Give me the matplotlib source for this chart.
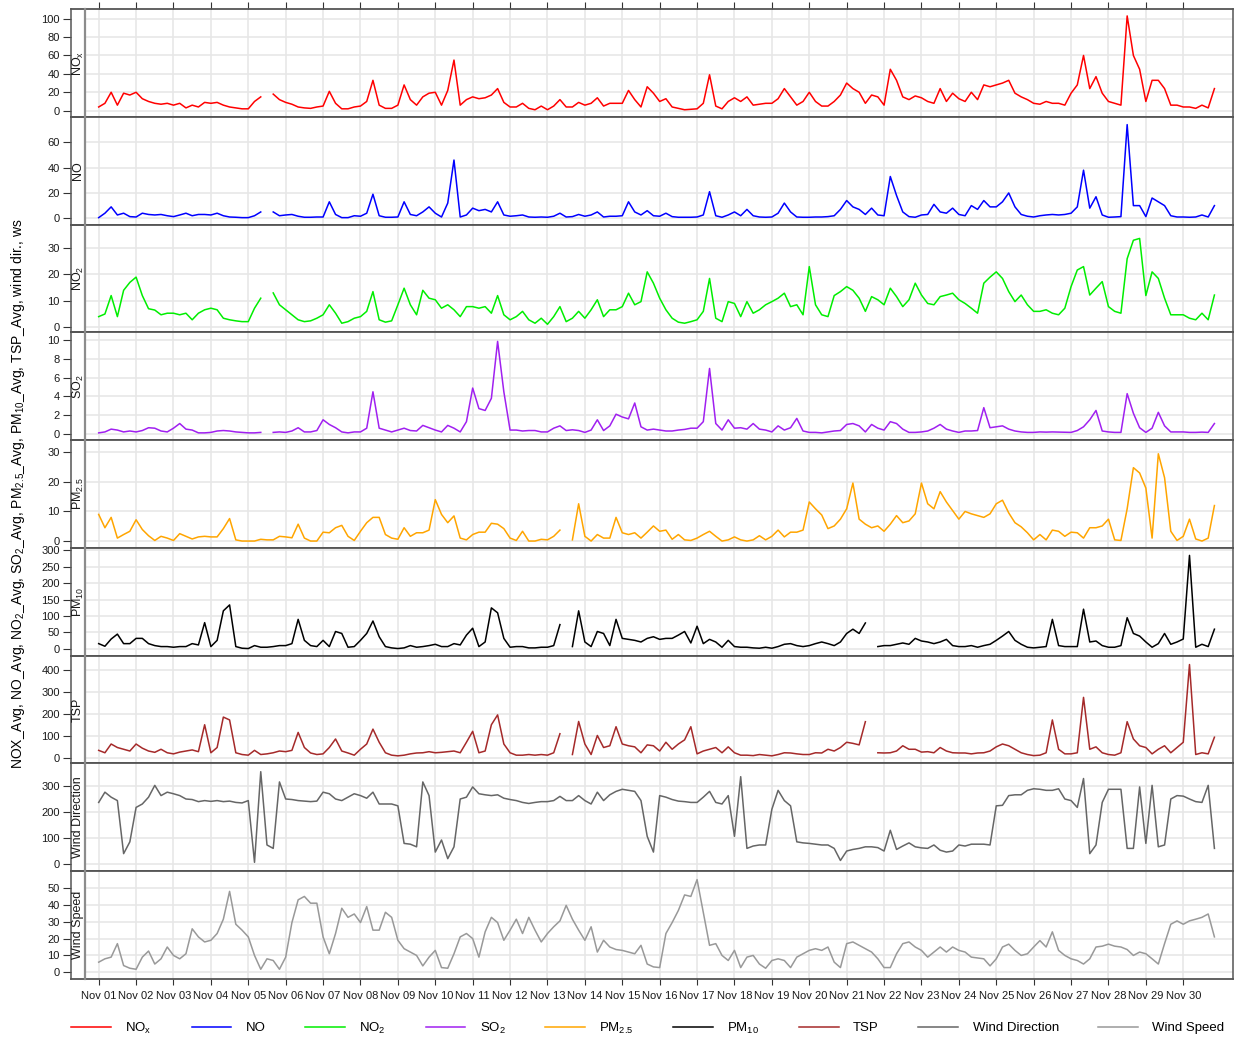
import numpy as np
import pandas as pd
import matplotlib
matplotlib.use('Agg')
import matplotlib.pyplot as plt
import matplotlib.dates as mdates
from matplotlib.lines import Line2D

plt.rcParams['font.family'] = ['Liberation Sans', 'DejaVu Sans']
plt.rcParams['mathtext.default'] = 'regular'

nan = np.nan

# 4-hourly averages, Nov 01 - Nov 30 (6 values per day, 00h ... 20h)
nox = [4, 8, 20, 6, 19, 17,      20, 13, 10, 8, 7, 8,        6, 8, 3, 6, 4, 9,
       8, 9, 6, 4, 3, 2,         2, 10, 15, nan, 18, 12,     9, 7, 4, 3, 2.5, 4,
       5, 21, 8, 2, 2, 4,        5, 10, 33, 6, 2.5, 2.5,     6, 28, 12, 6, 15, 19,
       20, 6, 22, 55, 6, 12,     15, 13, 14, 17, 24, 9,      4, 4, 8, 2.5, 1, 5,
       1, 5, 12, 4, 4, 9,        6, 8, 14, 5, 8, 8,          8, 22, 12, 4, 26, 19,
       10, 13, 4, 2.5, 1, 1.5,   2, 8, 39, 5, 2, 10,         14, 10, 15, 6, 7, 8,
       8, 13, 24, 15, 6, 10,     20, 10, 5, 5, 10, 17,       30, 24, 20, 8, 17, 15,
       6, 45, 33, 15, 12, 16,    14, 10, 8, 24, 10, 19,      13, 10, 20, 12, 28, 26,
       28, 30, 33, 19, 15, 12,   8, 7, 10, 8, 8, 6,          19, 28, 60, 24, 37, 19,
       10, 8, 6, 103, 60, 45,    10, 33, 33, 24, 6, 6,       4, 4, 2.5, 6, 3, 24]

no = [0.5, 4, 9, 2.6, 4, 1.3,    1, 4, 3, 2.6, 3, 2,         1.3, 2.6, 4, 2, 3, 3,
      2.6, 4, 2, 1, 0.8, 0.5,    0.5, 2, 5, nan, 5, 2,       2.6, 3, 1.6, 0.8, 0.8, 1,
      1, 13, 3, 0.5, 0.5, 2,     1.6, 4, 19, 2, 0.8, 0.8,    1, 13, 3, 2, 5, 9,
      4, 1, 12, 46, 1, 2.6,      8, 6, 7, 5, 13, 2.6,        1.6, 2, 2.6, 1, 0.8, 1,
      0.8, 1.6, 4, 1, 1.3, 3,    1.6, 2.6, 5, 1, 1.6, 1.6,   2, 13, 5, 2.6, 6, 2,
      1.6, 4, 1.3, 0.8, 0.8, 0.8, 1, 2.6, 21, 2, 0.8, 2.6,   5, 2, 7, 2, 1, 0.8,
      1, 4, 12, 5, 1, 0.8,       0.8, 1, 1, 1.3, 2, 7,       14, 9, 7, 3, 8, 2.6,
      2, 33, 18, 5, 1.3, 0.8,    2.6, 3, 11, 5, 4, 8,        3, 2, 10, 7, 14, 9,
      9, 13, 20, 9, 3, 1.6,      1, 2, 2.6, 3, 2.6, 3,       4, 9, 38, 8, 17, 2.6,
      0.8, 1, 1.3, 74, 10, 10,   1.3, 16, 13, 10, 2, 1,      1, 0.8, 1, 2.6, 1, 10]

no2 = [4, 5, 12, 4, 14, 17,         19, 12, 7, 6.5, 4.7, 5.3,     5.3, 4.7, 5.3, 2.8, 5.3, 6.6,
       7.2, 6.6, 3.4, 2.8, 2.4, 2.1, 2.1, 7.2, 11, nan, 13, 8.5,   6.6, 4.7, 2.8, 2.1, 2.4, 3.4,
       4.7, 8.5, 5.3, 1.5, 2.1, 3.4, 4, 6, 13.5, 2.8, 1.9, 2.4,    8.5, 14.8, 8.5, 4.7, 14, 11,
       10.4, 7.2, 8.5, 6.6, 4, 7.8,  7.8, 7.2, 7.8, 5.3, 12, 4.7,  2.8, 4, 6, 2.8, 1.5, 3.4,
       1.1, 4, 7.8, 2.1, 3.4, 6,     3.4, 6.6, 10.4, 4, 6.6, 6.6,  7.8, 12.9, 8.5, 9.7, 21, 16.7,
       11, 6.6, 3.4, 1.9, 1.5, 2.1,  2.8, 6, 18.5, 3.4, 2.1, 9.7,  9, 4, 9.7, 5.3, 6.6, 8.5,
       9.7, 11, 12.9, 7.8, 8.5, 4.7, 23, 8.5, 4.7, 4, 12, 13.5,    15.4, 14, 11, 6, 11.6, 10.4,
       8.5, 14.8, 11.6, 7.8, 10.4, 16.7, 12.2, 9, 8.5, 11.6, 12.2, 12.9, 10.4, 9, 7.2, 5.3, 16.7, 19,
       21, 18.5, 13.5, 9.7, 12.2, 8.5, 6, 6, 6.6, 5.3, 4.7, 7.2,   15.4, 21.7, 23, 12.2, 14.8, 17.3,
       7.8, 6, 5.3, 26, 33, 33.7,    12, 21, 18.5, 11, 4.7, 4.7,   4.7, 3.4, 2.8, 5.3, 2.8, 12.2]

so2 = [0.1, 0.2, 0.5, 0.4, 0.2, 0.3,     0.2, 0.35, 0.65, 0.6, 0.3, 0.2,   0.6, 1.1, 0.5, 0.4, 0.1, 0.1,
       0.15, 0.3, 0.35, 0.3, 0.2, 0.15,  0.1, 0.1, 0.15, nan, 0.15, 0.2,   0.15, 0.3, 0.65, 0.2, 0.2, 0.35,
       1.5, 1.0, 0.65, 0.2, 0.1, 0.2,    0.2, 0.6, 4.5, 0.6, 0.4, 0.2,     0.4, 0.6, 0.35, 0.3, 0.9, 0.65,
       0.4, 0.2, 0.9, 0.6, 0.2, 1.3,     4.9, 2.7, 2.5, 3.8, 9.9, 4.5,     0.4, 0.4, 0.3, 0.35, 0.35, 0.2,
       0.2, 0.6, 0.85, 0.35, 0.43, 0.35, 0.15, 0.4, 1.5, 0.35, 0.85, 2.1,  1.8, 1.6, 3.3, 0.75, 0.4, 0.5,
       0.4, 0.3, 0.3, 0.4, 0.47, 0.6,    0.6, 1.3, 7.0, 1.1, 0.4, 1.5,     0.6, 0.65, 0.5, 1.1, 0.5, 0.4,
       0.2, 0.85, 0.4, 0.65, 1.65, 0.3,  0.15, 0.15, 0.1, 0.2, 0.3, 0.35,  1.0, 1.1, 0.85, 0.2, 1.0, 0.6,
       0.4, 1.3, 1.1, 0.5, 0.15, 0.15,   0.2, 0.3, 0.6, 1.0, 0.5, 0.3,     0.15, 0.3, 0.3, 0.35, 2.8, 0.65,
       0.75, 0.85, 0.5, 0.3, 0.2, 0.15,  0.15, 0.2, 0.18, 0.2, 0.18, 0.15, 0.15, 0.35, 0.75, 1.5, 2.5, 0.3,
       0.2, 0.15, 0.15, 4.3, 2.2, 0.65,  0.15, 0.6, 2.3, 0.85, 0.2, 0.2,   0.2, 0.15, 0.15, 0.18, 0.15, 1.1]

pm25 = [9, 4.5, 8, 1, 2.2, 3.3,        7.2, 3.9, 1.8, 0.2, 1.6, 1,      0.2, 2.5, 1.6, 0.7, 1.4, 1.6,
        1.4, 1.4, 4.2, 7.6, 0.4, 0,    0, 0, 0.6, 0.4, 0.4, 1.6,        1.4, 1.1, 5.7, 1, 0, 0,
        3, 2.8, 4.5, 5.3, 1.6, 0.2,    3.3, 6.2, 8, 8, 2.2, 1,          0.6, 4.5, 1.6, 2.8, 2.8, 3.7,
        14, 9, 6.2, 8.5, 1, 0.4,       2.2, 3, 3, 6, 5.7, 4.2,          1, 0.2, 3.3, 0, 0, 0.6,
        0.4, 1.6, 3.7, nan, 0.4, 12.6, 1.6, 0, 2.2, 1, 1, 8,            2.8, 2.2, 2.8, 1, 3, 5.1,
        3.3, 3.7, 0.6, 2.2, 0.4, 0.2,  1, 2.2, 3.3, 1.6, 0, 0.4,        1.4, 0.4, 0, 0.4, 1.8, 0.4,
        1.6, 3.7, 1.4, 3, 3, 3.7,      13.2, 10.9, 8.8, 4.2, 5.1, 7.4,  10.9, 19.6, 7.4, 5.7, 4.5, 5.1,
        3.3, 5.7, 8.6, 6.2, 6.8, 9.2,  19.6, 12.6, 10.9, 16.7, 13.2, 10.3, 7.4, 10, 9.2, 8.6, 8, 9.2,
        12.6, 13.8, 9.5, 6.2, 4.8, 2.8, 0.4, 2.2, 0.4, 3.7, 3.3, 1.6,   3, 2.8, 1, 4.5, 4.5, 5.1,
        7.4, 0.4, 0.2, 10.9, 24.8, 23, 17.9, 1, 29.5, 21.4, 3.3, 0.2,   1.6, 7.4, 0.7, 0, 1, 12]

pm10 = [16, 8, 30, 45, 16, 16,    32, 32, 16, 10, 7, 7,      5, 7, 7, 16, 12, 80,
        7, 26, 116, 134, 7, 2,    1, 10, 5, 5, 7, 10,        10, 16, 90, 26, 10, 7,
        26, 7, 53, 47, 5, 7,      26, 47, 85, 37, 7, 3,      1, 3, 10, 5, 7, 10,
        14, 7, 7, 16, 12, 42,     63, 7, 21, 125, 110, 32,   5, 7, 7, 3, 3, 5,
        5, 10, 74, nan, 7, 116,   21, 7, 53, 47, 10, 90,     32, 29, 26, 21, 32, 37,
        29, 32, 32, 42, 53, 18,   69, 16, 29, 21, 5, 26,     7, 5, 5, 3, 2, 5,
        2, 7, 14, 16, 10, 7,      10, 16, 21, 16, 10, 21,    47, 60, 47, 79, nan, 7,
        10, 10, 14, 18, 14, 32,   24, 21, 16, 21, 29, 10,    7, 7, 10, 5, 10, 14,
        26, 39, 53, 26, 14, 5,    3, 5, 7, 90, 10, 7,        7, 7, 121, 21, 24, 10,
        5, 5, 10, 95, 47, 39,     21, 5, 16, 47, 14, 21,     30, 285, 5, 14, 7, 60]

tsp = [33, 22, 62, 46, 38, 30,    62, 43, 30, 24, 38, 22,    17, 25, 30, 35, 27, 150,
       22, 46, 185, 172, 22, 14,  11, 33, 14, 17, 22, 30,    27, 33, 115, 46, 21, 14,
       17, 46, 85, 30, 21, 11,    38, 62, 130, 70, 22, 11,   8, 11, 17, 21, 22, 27,
       22, 24, 27, 30, 22, 70,    120, 22, 30, 150, 195, 62, 22, 11, 11, 14, 11, 14,
       11, 22, 109, nan, 14, 165, 62, 14, 101, 46, 54, 141,  62, 54, 49, 22, 58, 54,
       30, 70, 38, 62, 81, 141,   17, 30, 38, 46, 22, 49,    22, 11, 11, 9, 14, 11,
       8, 14, 22, 21, 17, 14,     14, 22, 21, 38, 30, 46,    70, 65, 58, 164, nan, 22,
       21, 22, 30, 54, 38, 38,    25, 27, 22, 46, 30, 22,    21, 21, 17, 21, 22, 30,
       49, 62, 54, 38, 22, 14,    9, 11, 22, 172, 38, 17,    17, 22, 275, 38, 49, 22,
       14, 11, 22, 164, 85, 54,   46, 17, 38, 54, 22, 46,    70, 425, 14, 22, 17, 93]

wind_dir = [236, 275, 256, 243, 41, 86,    217, 230, 256, 301, 262, 275,  269, 262, 249, 247, 239, 243,
            240, 243, 239, 241, 236, 234,  243, 8, 353, 74, 61, 314,      249, 247, 243, 241, 239, 241,
            275, 269, 249, 243, 256, 269,  262, 252, 275, 230, 230, 230,  223, 80, 77, 67, 314, 262,
            47, 93, 22, 67, 249, 256,      295, 269, 265, 262, 265, 252,  247, 243, 236, 232, 236, 239,
            239, 243, 259, 243, 243, 262,  243, 230, 275, 243, 265, 278,  286, 282, 278, 243, 107, 47,
            262, 256, 247, 241, 239, 236,  236, 256, 278, 236, 230, 262,  107, 334, 61, 70, 74, 74,
            210, 282, 243, 223, 86, 82,    80, 77, 74, 74, 61, 15,        51, 57, 61, 67, 67, 64,
            51, 130, 57, 70, 82, 67,       63, 61, 74, 54, 47, 51,        74, 70, 77, 77, 77, 74,
            223, 225, 262, 265, 265, 282,  288, 286, 282, 282, 288, 249,  243, 217, 327, 41, 74, 236,
            286, 286, 286, 61, 61, 295,    80, 301, 67, 74, 249, 262,     260, 249, 239, 236, 301, 61]

wind_speed = [6, 8, 9, 17, 4, 2.4,         1.8, 9, 12.6, 4.9, 8, 15,      10, 8, 11, 25.8, 21, 18,
              19, 23, 31.5, 48, 28.5, 25,  21, 10, 1.8, 8, 7, 1.8,        9, 29.5, 43, 45, 41, 41,
              21, 11, 23, 38, 32.6, 34.6,  29.5, 39, 25, 25, 35.6, 32.6,  19, 14, 12, 10, 3.8, 9,
              13, 2.8, 2.4, 11, 21, 23,    20, 9, 24, 32.6, 29.5, 19,     25, 31.5, 23, 32.6, 25, 18,
              23, 27, 30.5, 39.7, 31.5, 25, 19, 27, 12, 19, 15, 13.5,     13, 12, 11, 16, 4.9, 3.2,
              2.8, 23, 29.5, 36.7, 45.9, 45, 55, 35.6, 16, 17, 10, 7,     13, 2.8, 9, 10, 4.9, 2.4,
              7, 8, 7, 2.8, 9, 11,         13, 14, 13, 15, 6, 2.8,        17, 18, 16, 14, 12, 8,
              2.8, 2.8, 11, 17, 18, 15,    13, 9, 12, 15, 12, 15,         13, 12, 9, 8.5, 8, 3.8,
              8, 15, 16.7, 13, 10, 11,     15, 18.8, 15, 24, 13, 10,      8, 7, 4.9, 8, 15, 15.5,
              16.7, 15.5, 15, 13.5, 10, 12, 11, 8, 4.9, 17, 28.5, 30.5,   28.5, 30.5, 31.5, 32.6, 34.6, 21]

labels = ['NO$_x$', 'NO', 'NO$_2$', 'SO$_2$', 'PM$_{2.5}$', 'PM$_{10}$', 'TSP',
          'Wind Direction', 'Wind Speed']

times = pd.date_range('2023-11-01', periods=len(nox), freq='4h')
days = pd.date_range('2023-11-01', '2023-11-30', freq='D')

# series, line colour, y limits, y ticks
panels = [
    (nox, 'red', (-6.9, 110.2), np.arange(0, 101, 20)),
    (no, 'blue', (-5.1, 80), np.arange(0, 61, 20)),
    (no2, '#00ee00', (-2.0, 38.9), np.arange(0, 31, 10)),
    (so2, '#a020f0', (-0.68, 10.86), np.arange(0, 11, 2)),
    (pm25, 'orange', (-2.3, 34.1), np.arange(0, 31, 10)),
    (pm10, 'black', (-20.4, 308), np.arange(0, 301, 50)),
    (tsp, 'brown', (-26, 466), np.arange(0, 401, 100)),
    (wind_dir, '#666666', (-25, 385), np.arange(0, 301, 100)),
    (wind_speed, '#999999', (-3.8, 60.1), np.arange(0, 51, 10)),
]

W, H = 1242, 1038
fig = plt.figure(figsize=(W / 100, H / 100), dpi=100)

x0, x1 = 85, 1233
top, bottom = 9.3, 978.7
ph = (bottom - top) / len(panels)
strip = 14                      # px between y axis line and panel
frame = '#555555'

t0 = pd.Timestamp('2023-11-01')
xlim = (t0 - pd.Timedelta(days=0.366), t0 + pd.Timedelta(days=30.33))

for i, ((vals, col, ylim, yt), lab) in enumerate(zip(panels, labels)):
    ax = fig.add_axes([x0 / W, 1 - (top + (i + 1) * ph) / H, (x1 - x0) / W, ph / H])
    ax.plot(times, vals, color=col, lw=1.1, solid_joinstyle='round')
    ax.set_xlim(*xlim)
    ax.set_ylim(*ylim)
    ax.set_xticks(days)
    ax.set_yticks(yt)
    ax.set_axisbelow(True)
    ax.grid(True, color='#e6e6e6', lw=1.1)

    for s in ('top', 'bottom'):
        ax.spines[s].set_visible(False)
    ax.spines['left'].set_position(('outward', strip * 0.72))
    ax.spines['left'].set_color(frame)
    ax.spines['left'].set_linewidth(1.1)
    ax.spines['right'].set_color(frame)
    ax.spines['right'].set_linewidth(1.1)

    # panel separators run across the label strip too
    dx = strip / (x1 - x0)
    for yy in (0, 1):
        ax.plot([-dx, 1], [yy, yy], transform=ax.transAxes, color=frame,
                lw=1.3, clip_on=False)
    ax.plot([0, 0], [0, 1], transform=ax.transAxes, color='#8c8c8c',
            lw=1.6, clip_on=False)
    ax.text(-dx / 2, 0.5, lab, transform=ax.transAxes, rotation=90,
            ha='center', va='center', fontsize=9, color='#1a1a1a')

    ax.tick_params(axis='y', direction='out', length=5.5, width=0.8, pad=2.5,
                   labelsize=8, color='#333333', labelcolor='#1a1a1a')
    if i == len(panels) - 1:
        ax.xaxis.set_major_formatter(mdates.DateFormatter('%b %d'))
        ax.tick_params(axis='x', direction='out', length=4.5, width=0.8, pad=4.5,
                       labelsize=8, color='#333333', labelcolor='#1a1a1a')
    else:
        ax.tick_params(axis='x', bottom=False, labelbottom=False)
    if i == 0:
        ax.tick_params(axis='x', top=True, direction='out', length=4.7,
                       width=0.8, color='#333333')

fig.text(18 / W, 1 - 494 / H,
         'NOX_Avg, NO_Avg, NO$_2$_Avg, SO$_2$_Avg, PM$_{2.5}$_Avg, '
         'PM$_{10}$_Avg, TSP_Avg, wind dir., ws',
         rotation=90, ha='center', va='center', fontsize=10)

handles = [Line2D([], [], color=p[1], lw=1.1) for p in panels]
fig.legend(handles, labels, loc='center', bbox_to_anchor=(648 / W, 1 - 1028 / H),
           ncol=len(labels), frameon=False, fontsize=9.5, handlelength=3.0,
           handletextpad=1.1, columnspacing=3.0)

fig.savefig('out.png', dpi=100)
